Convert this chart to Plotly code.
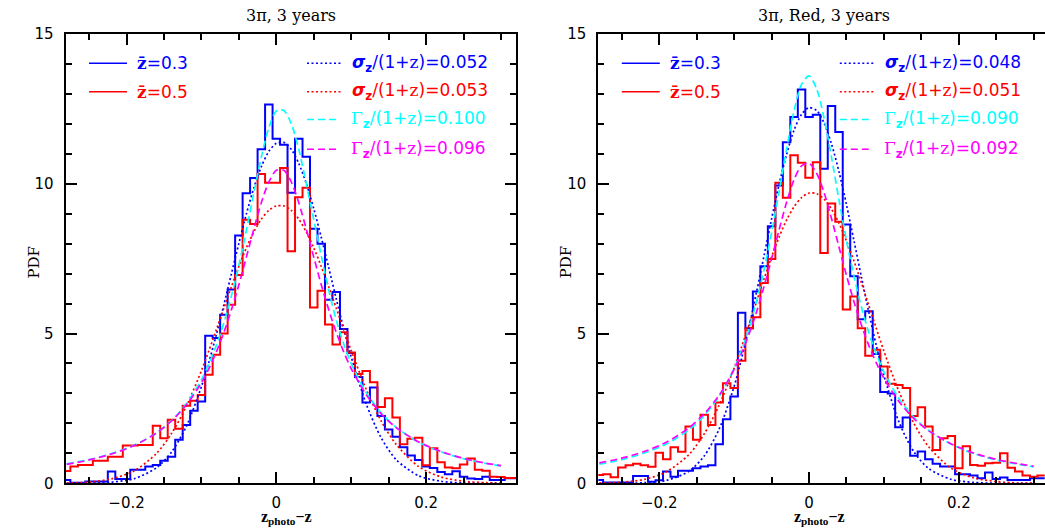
import plotly.graph_objects as go

W, H = 1045, 529

# ---- binning of the photo-z error histograms (bin width 0.01) ----
BIN_WIDTH = 0.01
BIN_CENTERS = [round(-0.28 + BIN_WIDTH * i, 2) for i in range(61)]

# 3pi, 3 years : histogram heights (PDF) per bin
ALL_Z03_HIST = [0.11, 0.02, 0.02, 0.06, 0.06, 0.06, 0.39, 0.14, 0.14, 0.45,
                0.45, 0.56, 0.61, 0.75, 0.89, 1.45, 1.95, 2.42, 2.73, 4.93,
                4.85, 5.63, 6.47, 8.27, 9.68, 10.19, 11.15, 12.65, 11.5, 11.3,
                9.7, 11.5, 10.9, 8.5, 8.0, 6.13, 6.39, 5.15, 4.35, 3.55,
                2.7, 3.2, 2.25, 1.8, 1.55, 1.2, 0.93, 0.78, 0.56, 0.51,
                0.38, 0.3, 0.4, 0.22, 0.16, 0.14, 0.22, 0.11, 0.11, 0.17, 0.17]
ALL_Z05_HIST = [0.41, 0.56, 0.61, 0.61, 0.75, 0.75, 0.89, 0.89, 1.26, 1.26,
                1.28, 1.28, 1.92, 1.5, 2.12, 1.82, 2.59, 2.76, 2.95, 3.62,
                4.29, 5.0, 5.96, 6.95, 8.8, 8.66, 10.33, 10.03, 10.03, 10.53,
                7.75, 9.55, 9.87, 5.87, 6.43, 5.3, 4.63, 5.04, 4.37, 3.65,
                3.75, 3.37, 2.55, 2.84, 2.2, 1.3, 1.49, 1.52, 0.6, 1.17,
                0.7, 0.53, 0.5, 0.63, 0.83, 0.45, 0.42, 0.22, 0.21, 0.18, 0.18]

# 3pi, Red, 3 years : histogram heights (PDF) per bin
RED_Z03_HIST = [0.11, 0.03, 0.03, 0.03, 0.03, 0.24, 0.24, 0.05, 0.1, 0.39,
                0.22, 0.42, 0.42, 0.5, 0.56, 0.6, 1.3, 2.14, 2.9, 5.69,
                5.18, 6.4, 7.25, 8.58, 9.94, 11.39, 12.23, 13.15, 12.23, 12.3,
                10.5, 12.6, 11.73, 8.64, 6.91, 5.48, 5.74, 4.32, 3.05, 3.0,
                1.87, 2.2, 0.92, 1.06, 0.8, 0.65, 0.56, 0.56, 0.3, 0.3,
                0.26, 0.17, 0.36, 0.14, 0.19, 0.11, 0.11, 0.11, 0.17, 0.17, 0.17]
RED_Z05_HIST = [0.28, 0.3, 0.2, 0.53, 0.6, 0.65, 0.6, 0.55, 1.02, 0.8,
                1.2, 1.05, 1.9, 1.45, 2.29, 1.95, 2.7, 3.34, 3.18, 4.09,
                5.18, 5.54, 6.69, 7.49, 10.03, 9.53, 10.95, 10.7, 10.2, 10.72,
                7.69, 9.34, 8.73, 5.8, 6.24, 5.18, 4.26, 4.46, 3.9, 3.32,
                3.28, 3.18, 2.25, 2.54, 1.9, 1.11, 1.5, 1.58, 0.5, 1.24,
                0.61, 0.59, 0.67, 0.69, 1.0, 0.52, 0.39, 0.26, 0.22, 0.26, 0.26]

# ---- fitted profiles, sampled along z_photo - z ----
CURVE_X = [-0.28, -0.25, -0.22, -0.19, -0.16, -0.14, -0.12, -0.10, -0.09, -0.08,
           -0.07, -0.06, -0.05, -0.04, -0.03, -0.02, -0.01, 0.00, 0.01, 0.02,
           0.03, 0.04, 0.05, 0.06, 0.07, 0.08, 0.09, 0.10, 0.12, 0.14,
           0.16, 0.19, 0.22, 0.25, 0.28, 0.30]

ALL_Z03_GAUSS = [0.00, 0.01, 0.04, 0.15, 0.52, 1.04, 1.91, 3.23, 4.05, 4.97,
                 5.96, 6.99, 8.01, 8.99, 9.86, 10.57, 11.08, 11.35, 11.38, 11.15,
                 10.68, 10.01, 9.17, 8.21, 7.20, 6.16, 5.16, 4.22, 2.65, 1.52,
                 0.79, 0.25, 0.07, 0.01, 0.00, 0.00]
ALL_Z05_GAUSS = [0.01, 0.04, 0.15, 0.41, 1.00, 1.66, 2.58, 3.76, 4.43, 5.13,
                 5.85, 6.56, 7.24, 7.86, 8.39, 8.82, 9.11, 9.26, 9.26, 9.11,
                 8.82, 8.39, 7.86, 7.24, 6.56, 5.85, 5.13, 4.43, 3.14, 2.08,
                 1.30, 0.56, 0.21, 0.07, 0.02, 0.01]
ALL_Z03_LOR = [0.65, 0.79, 0.99, 1.27, 1.68, 2.09, 2.66, 3.46, 3.99, 4.61,
               5.36, 6.25, 7.28, 8.45, 9.69, 10.89, 11.87, 12.43, 12.45, 12.0,
               11.15, 10.0, 8.8, 7.6, 6.45, 5.45, 4.65, 4.0, 3.03, 2.35,
               1.87, 1.37, 1.05, 0.82, 0.66, 0.58]
ALL_Z05_LOR = [0.63, 0.78, 0.98, 1.26, 1.68, 2.08, 2.62, 3.36, 3.83, 4.39,
               5.04, 5.79, 6.63, 7.55, 8.49, 9.37, 10.06, 10.45, 10.45, 10.06,
               9.37, 8.49, 7.55, 6.63, 5.79, 5.04, 4.39, 3.83, 2.96, 2.32,
               1.86, 1.38, 1.06, 0.83, 0.67, 0.59]

RED_Z03_GAUSS = [0.00, 0.00, 0.02, 0.10, 0.41, 0.91, 1.81, 3.24, 4.18, 5.23,
                 6.40, 7.61, 8.83, 9.98, 10.98, 11.79, 12.32, 12.54, 12.45, 12.03,
                 11.33, 10.40, 9.30, 8.10, 6.88, 5.69, 4.58, 3.60, 2.05, 1.05,
                 0.49, 0.13, 0.03, 0.00, 0.00, 0.00]
RED_Z05_GAUSS = [0.01, 0.04, 0.13, 0.39, 0.97, 1.65, 2.61, 3.85, 4.56, 5.31,
                 6.07, 6.83, 7.56, 8.22, 8.79, 9.23, 9.54, 9.69, 9.67, 9.49,
                 9.15, 8.68, 8.09, 7.42, 6.69, 5.92, 5.16, 4.41, 3.07, 2.00,
                 1.21, 0.50, 0.18, 0.06, 0.01, 0.01]
RED_Z03_LOR = [0.64, 0.79, 1.01, 1.32, 1.79, 2.26, 2.90, 3.83, 4.44, 5.18,
               6.08, 7.14, 8.37, 9.74, 11.16, 12.43, 13.32, 13.60, 13.18, 12.20,
               10.88, 9.46, 8.11, 6.91, 5.88, 5.02, 4.31, 3.72, 2.83, 2.20,
               1.76, 1.30, 0.99, 0.78, 0.63, 0.55]
RED_Z05_LOR = [0.68, 0.84, 1.06, 1.38, 1.86, 2.32, 2.94, 3.80, 4.35, 4.99,
               5.73, 6.58, 7.50, 8.46, 9.38, 10.14, 10.60, 10.68, 10.36, 9.71,
               8.84, 7.89, 6.94, 6.06, 5.28, 4.59, 4.01, 3.51, 2.73, 2.16,
               1.75, 1.31, 1.01, 0.80, 0.65, 0.57]

# ---- labels ----
TITLES = ["3\u03c0, 3 years", "3\u03c0, Red, 3 years"]
ZBAR_LABELS = ["0.3", "0.5"]
SIGMA_LABELS = [["0.052", "0.053"], ["0.048", "0.051"]]
GAMMA_LABELS = [["0.100", "0.096"], ["0.090", "0.092"]]

BLUE, RED, CYAN, MAGENTA = "#0000ff", "#ff0000", "#00ffff", "#ff00ff"
DOT = "2px,2.5px"
DASH = "7px,4px"

# panel geometry in pixels (frame left edge, x-range)
PANEL_LEFT = [65.5, 598.3]
X_RANGES = [[-0.2815, 0.3202], [-0.2814, 0.3147]]
PLOT_TOP, PLOT_BOTTOM = 34.0, 483.3


def px(x):
    return x / W


def py(y):
    return 1 - y / H


def step_xy(values):
    xs = [round(c - BIN_WIDTH / 2, 3) for c in BIN_CENTERS] + [round(BIN_CENTERS[-1] + BIN_WIDTH / 2, 3)]
    ys = list(values) + [values[-1]]
    return xs, ys


fig = go.Figure()

panels = [
    dict(hist=[ALL_Z03_HIST, ALL_Z05_HIST], gauss=[ALL_Z03_GAUSS, ALL_Z05_GAUSS],
         lor=[ALL_Z03_LOR, ALL_Z05_LOR]),
    dict(hist=[RED_Z03_HIST, RED_Z05_HIST], gauss=[RED_Z03_GAUSS, RED_Z05_GAUSS],
         lor=[RED_Z03_LOR, RED_Z05_LOR]),
]

for i, p in enumerate(panels):
    xa = "x" if i == 0 else "x2"
    ya = "y" if i == 0 else "y2"
    for vals, col in zip(p["hist"], [BLUE, RED]):
        hx, hy = step_xy(vals)
        fig.add_trace(go.Scatter(x=hx, y=hy, mode="lines", line=dict(color=col, width=2, shape="hv"),
                                 xaxis=xa, yaxis=ya, showlegend=False, hoverinfo="skip"))
    for vals, col in zip(p["gauss"], [BLUE, RED]):
        fig.add_trace(go.Scatter(x=CURVE_X, y=vals, mode="lines",
                                 line=dict(color=col, width=1.7, dash=DOT, shape="spline", smoothing=0.8),
                                 xaxis=xa, yaxis=ya, showlegend=False, hoverinfo="skip"))
    for vals, col in zip(p["lor"], [CYAN, MAGENTA]):
        fig.add_trace(go.Scatter(x=CURVE_X, y=vals, mode="lines",
                                 line=dict(color=col, width=1.7, dash=DASH, shape="spline", smoothing=0.8),
                                 xaxis=xa, yaxis=ya, showlegend=False, hoverinfo="skip"))

tickfont = dict(family="DejaVu Sans", size=15, color="black")
minor_x = dict(dtick=0.05, tick0=0, ticklen=6, tickwidth=1.5, tickcolor="black", ticks="inside", showgrid=False)
minor_y = dict(dtick=1, tick0=0, ticklen=6, tickwidth=1.5, tickcolor="black", ticks="inside", showgrid=False)

ydom = [py(PLOT_BOTTOM), py(PLOT_TOP)]


def xaxis(i):
    right = PANEL_LEFT[i] + (X_RANGES[i][1] - X_RANGES[i][0]) * 748.9
    return dict(domain=[px(PANEL_LEFT[i]), min(1.0, px(right))], range=X_RANGES[i],
                showline=True, linecolor="black", linewidth=2, mirror="ticks",
                ticks="inside", ticklen=11, tickwidth=1.5, tickcolor="black",
                dtick=0.2, tick0=0, minor=minor_x, showgrid=False, zeroline=False,
                tickfont=tickfont, ticklabelstandoff=5, automargin=False,
                anchor="y" if i == 0 else "y2")


def yaxis(i, mirror):
    return dict(domain=ydom, range=[0, 15], showline=True, linecolor="black", linewidth=2,
                mirror=mirror, ticks="inside", ticklen=11, tickwidth=1.5, tickcolor="black",
                dtick=5, tick0=0, minor=minor_y, showgrid=False, zeroline=False,
                tickfont=tickfont, ticklabelstandoff=7, automargin=False,
                anchor="x" if i == 0 else "x2")


fig.update_layout(
    width=W, height=H, autosize=False, margin=dict(l=0, r=0, t=0, b=0, pad=0),
    paper_bgcolor="white", plot_bgcolor="white", showlegend=False,
    xaxis=xaxis(0), yaxis=yaxis(0, "ticks"),
    xaxis2=xaxis(1), yaxis2=yaxis(1, False),
    yaxis3=dict(overlaying="y2", anchor="x2", side="right", range=[0, 15], showline=False,
                ticks="inside", ticklen=7, tickwidth=1.5, tickcolor="black", dtick=5, tick0=0,
                minor=dict(dtick=1, tick0=0, ticklen=2, tickwidth=1.5, tickcolor="black", ticks="inside"),
                showticklabels=False, showgrid=False, zeroline=False, automargin=False),
)

annotations = []
shapes = []
serif_z = '<span style="font-family:DejaVu Serif">z</span>'
row_y = [63.3, 91.7, 119.5, 149.3]
for i in range(2):
    off = PANEL_LEFT[i] - PANEL_LEFT[0]
    mid = PANEL_LEFT[i] + 225.3
    annotations.append(dict(text=TITLES[i], x=px(mid), y=py(15), xref="paper", yref="paper",
                            xanchor="center", yanchor="middle", showarrow=False,
                            font=dict(family="DejaVu Serif", size=16, color="black")))
    annotations.append(dict(text="<b>z</b><sub><b>photo</b></sub><b>\u2212z</b>", x=px(mid - 4), y=py(517),
                            xref="paper", yref="paper", xanchor="center", yanchor="middle", showarrow=False,
                            font=dict(family="Liberation Serif", size=16, color="black")))
    annotations.append(dict(text="PDF", x=px(PANEL_LEFT[i] - 32), y=py(262), xref="paper", yref="paper",
                            xanchor="center", yanchor="middle", textangle=-90, showarrow=False,
                            font=dict(family="DejaVu Serif", size=15, color="black")))
    # legend: histograms
    for k, col in enumerate([BLUE, RED]):
        shapes.append(dict(type="line", xref="paper", yref="paper", x0=px(89 + off), x1=px(127 + off),
                           y0=py(row_y[k]), y1=py(row_y[k]), line=dict(color=col, width=1.5)))
        annotations.append(dict(text='<b><span style="font-family:DejaVu Serif">z\u0304</span></b>=' + ZBAR_LABELS[k],
                                x=px(135 + off), y=py(row_y[k]), xref="paper", yref="paper",
                                xanchor="left", yanchor="middle", showarrow=False,
                                font=dict(family="DejaVu Sans", size=17, color=col)))
    # legend: gaussian widths
    for k, col in enumerate([BLUE, RED]):
        shapes.append(dict(type="line", xref="paper", yref="paper", x0=px(307 + off), x1=px(342 + off),
                           y0=py(row_y[k]), y1=py(row_y[k]), line=dict(color=col, width=1.5, dash=DOT)))
        annotations.append(dict(text="<b><i>\u03c3</i></b><sub><b>z</b></sub>/(1+" + serif_z + ")=" + SIGMA_LABELS[i][k],
                                x=px(350 + off), y=py(row_y[k]), xref="paper", yref="paper",
                                xanchor="left", yanchor="middle", showarrow=False,
                                font=dict(family="DejaVu Sans", size=17, color=col)))
    # legend: lorentzian widths
    for k, col in enumerate([CYAN, MAGENTA]):
        shapes.append(dict(type="line", xref="paper", yref="paper", x0=px(307 + off), x1=px(339 + off),
                           y0=py(row_y[k + 2]), y1=py(row_y[k + 2]), line=dict(color=col, width=1.5, dash=DASH)))
        annotations.append(dict(text='<span style="font-family:DejaVu Serif">\u0393</span><sub><b>z</b></sub>/(1+'
                                + serif_z + ")=" + GAMMA_LABELS[i][k],
                                x=px(349 + off), y=py(row_y[k + 2]), xref="paper", yref="paper",
                                xanchor="left", yanchor="middle", showarrow=False,
                                font=dict(family="DejaVu Sans", size=17, color=col)))

fig.update_layout(annotations=annotations, shapes=shapes)
fig.write_html("out.html")
